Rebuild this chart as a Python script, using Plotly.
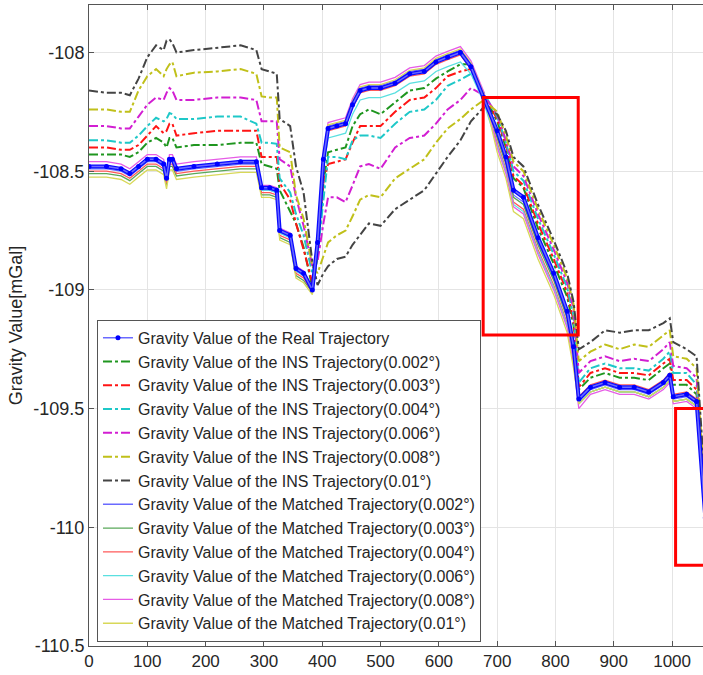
import plotly.graph_objects as go

# ---------------- data ----------------
X = [0, 30, 55, 70, 85, 100, 115, 128, 133, 138, 143, 150, 180, 220, 260,
     287, 296, 310, 322, 327, 345, 355, 368, 383, 392, 402, 410, 425, 440, 452,
     465, 480, 500, 525, 550, 575, 595, 615, 637, 655, 677, 700, 715, 728, 745,
     770, 797, 820, 831, 840, 860, 885, 910, 935, 960, 985, 996, 1002, 1025, 1042, 1057]

real = [-108.48, -108.48, -108.49, -108.51, -108.48, -108.45, -108.45, -108.47, -108.53, -108.45,
        -108.45, -108.49, -108.48, -108.47, -108.46, -108.46, -108.57, -108.57, -108.58, -108.75,
        -108.77, -108.91, -108.93, -109.00, -108.80, -108.45, -108.32, -108.31, -108.30, -108.22,
        -108.16, -108.15, -108.15, -108.13, -108.09, -108.08, -108.04, -108.02, -108.00, -108.06,
        -108.19, -108.33, -108.44, -108.58, -108.61, -108.78, -108.93, -109.09, -109.24, -109.46,
        -109.41, -109.39, -109.41, -109.41, -109.43, -109.39, -109.36, -109.45, -109.44, -109.47, -109.96]

ins_002 = [-108.43, -108.43, -108.43, -108.44, -108.42, -108.38, -108.36, -108.38, -108.40, -108.36,
           -108.36, -108.40, -108.39, -108.39, -108.38, -108.38, -108.47, -108.48, -108.49, -108.58,
           -108.67, -108.72, -108.82, -108.99, -108.86, -108.55, -108.42, -108.41, -108.40, -108.31,
           -108.26, -108.24, -108.26, -108.21, -108.16, -108.15, -108.11, -108.08, -108.05, -108.05,
           -108.18, -108.29, -108.40, -108.53, -108.57, -108.74, -108.89, -109.03, -109.15, -109.42,
           -109.37, -109.35, -109.37, -109.37, -109.38, -109.33, -109.31, -109.40, -109.40, -109.44, -109.93]

ins_003 = [-108.40, -108.40, -108.41, -108.41, -108.39, -108.35, -108.31, -108.34, -108.33, -108.30,
           -108.30, -108.35, -108.34, -108.33, -108.33, -108.33, -108.44, -108.44, -108.44, -108.55,
           -108.62, -108.72, -108.83, -108.97, -108.80, -108.55, -108.47, -108.46, -108.45, -108.38,
           -108.31, -108.31, -108.31, -108.25, -108.20, -108.19, -108.15, -108.10, -108.08, -108.07,
           -108.18, -108.28, -108.39, -108.52, -108.56, -108.72, -108.87, -109.01, -109.13, -109.41,
           -109.35, -109.33, -109.35, -109.35, -109.36, -109.31, -109.29, -109.38, -109.38, -109.42, -109.92]

ins_004 = [-108.37, -108.37, -108.38, -108.38, -108.35, -108.31, -108.275, -108.29, -108.28, -108.255,
           -108.26, -108.28, -108.28, -108.27, -108.27, -108.30, -108.38, -108.38, -108.385, -108.53,
           -108.59, -108.68, -108.77, -108.93, -108.85, -108.61, -108.44, -108.44, -108.45, -108.37,
           -108.35, -108.35, -108.36, -108.30, -108.25, -108.24, -108.20, -108.14, -108.115, -108.09,
           -108.17, -108.27, -108.38, -108.50, -108.54, -108.70, -108.85, -108.99, -109.11, -109.39,
           -109.33, -109.31, -109.33, -109.33, -109.34, -109.29, -109.26, -109.35, -109.35, -109.40, -109.90]

ins_006 = [-108.31, -108.31, -108.32, -108.32, -108.27, -108.22, -108.19, -108.20, -108.17, -108.15,
           -108.16, -108.20, -108.20, -108.19, -108.19, -108.20, -108.29, -108.29, -108.29, -108.45,
           -108.48, -108.61, -108.73, -108.90, -108.88, -108.72, -108.61, -108.61, -108.63, -108.56,
           -108.48, -108.47, -108.49, -108.40, -108.36, -108.35, -108.30, -108.24, -108.20, -108.15,
           -108.18, -108.26, -108.37, -108.48, -108.52, -108.68, -108.83, -108.97, -109.08, -109.35,
           -109.30, -109.28, -109.30, -109.29, -109.30, -109.25, -109.22, -109.32, -109.33, -109.37, -109.88]

ins_008 = [-108.24, -108.24, -108.25, -108.25, -108.16, -108.10, -108.07, -108.10, -108.07, -108.05,
           -108.04, -108.10, -108.085, -108.08, -108.07, -108.09, -108.185, -108.19, -108.19, -108.40,
           -108.42, -108.60, -108.70, -108.90, -108.93, -108.86, -108.80, -108.77, -108.75, -108.69,
           -108.62, -108.60, -108.61, -108.53, -108.49, -108.45, -108.38, -108.32, -108.28, -108.24,
           -108.20, -108.25, -108.35, -108.46, -108.50, -108.66, -108.81, -108.95, -109.06, -109.30,
           -109.26, -109.23, -109.25, -109.23, -109.24, -109.19, -109.17, -109.28, -109.29, -109.33, -109.86]

ins_010 = [-108.16, -108.17, -108.17, -108.18, -108.11, -108.02, -107.97, -107.99, -107.95, -107.945,
           -107.96, -108.00, -107.99, -107.98, -107.97, -107.99, -108.07, -108.08, -108.09, -108.28,
           -108.31, -108.48, -108.59, -108.88, -108.98, -108.93, -108.90, -108.87, -108.86, -108.81,
           -108.77, -108.72, -108.73, -108.66, -108.62, -108.58, -108.51, -108.44, -108.37, -108.29,
           -108.23, -108.26, -108.33, -108.44, -108.48, -108.64, -108.79, -108.93, -109.05, -109.25,
           -109.22, -109.17, -109.18, -109.17, -109.17, -109.14, -109.12, -109.22, -109.25, -109.28, -109.84]

mat_002 = [-108.49, -108.49, -108.50, -108.52, -108.49, -108.46, -108.46, -108.48, -108.54, -108.46,
           -108.46, -108.50, -108.49, -108.48, -108.47, -108.47, -108.58, -108.58, -108.59, -108.76,
           -108.78, -108.92, -108.94, -109.01, -108.81, -108.44, -108.31, -108.30, -108.29, -108.21,
           -108.15, -108.14, -108.14, -108.12, -108.08, -108.07, -108.03, -108.01, -107.99, -108.05,
           -108.18, -108.35, -108.46, -108.60, -108.63, -108.80, -108.95, -109.11, -109.26, -109.47,
           -109.42, -109.40, -109.42, -109.42, -109.44, -109.40, -109.37, -109.46, -109.45, -109.48, -109.97]

mat_003 = [-108.51, -108.51, -108.52, -108.54, -108.51, -108.48, -108.48, -108.50, -108.56, -108.48,
           -108.48, -108.52, -108.51, -108.50, -108.49, -108.49, -108.60, -108.60, -108.61, -108.78,
           -108.80, -108.94, -108.96, -109.01, -108.84, -108.46, -108.32, -108.31, -108.30, -108.22,
           -108.16, -108.15, -108.15, -108.13, -108.09, -108.08, -108.04, -108.02, -108.00, -108.06,
           -108.19, -108.36, -108.47, -108.61, -108.64, -108.81, -108.96, -109.12, -109.27, -109.48,
           -109.43, -109.41, -109.43, -109.43, -109.45, -109.41, -109.38, -109.47, -109.46, -109.49, -109.98]

mat_004 = [-108.50, -108.50, -108.51, -108.53, -108.50, -108.47, -108.47, -108.49, -108.55, -108.47,
           -108.47, -108.51, -108.50, -108.49, -108.48, -108.48, -108.59, -108.59, -108.60, -108.77,
           -108.79, -108.93, -108.95, -109.01, -108.82, -108.46, -108.33, -108.32, -108.31, -108.23,
           -108.17, -108.16, -108.16, -108.14, -108.10, -108.09, -108.05, -108.03, -108.01, -108.07,
           -108.20, -108.38, -108.49, -108.63, -108.66, -108.83, -108.98, -109.14, -109.29, -109.45,
           -109.40, -109.38, -109.40, -109.40, -109.42, -109.38, -109.35, -109.44, -109.43, -109.46, -109.95]

mat_006 = [-108.485, -108.485, -108.495, -108.515, -108.485, -108.455, -108.455, -108.475, -108.535, -108.455,
           -108.455, -108.495, -108.485, -108.475, -108.465, -108.465, -108.58, -108.58, -108.59, -108.76,
           -108.78, -108.92, -108.94, -109.00, -108.83, -108.49, -108.36, -108.35, -108.34, -108.26,
           -108.20, -108.19, -108.19, -108.17, -108.13, -108.12, -108.08, -108.06, -108.04, -108.09,
           -108.21, -108.39, -108.50, -108.64, -108.67, -108.84, -108.99, -109.15, -109.30, -109.48,
           -109.43, -109.41, -109.43, -109.43, -109.45, -109.41, -109.38, -109.47, -109.46, -109.49, -109.98]

mat_008 = [-108.46, -108.46, -108.47, -108.49, -108.46, -108.43, -108.43, -108.45, -108.51, -108.43,
           -108.43, -108.47, -108.46, -108.45, -108.44, -108.44, -108.56, -108.56, -108.57, -108.74,
           -108.76, -108.90, -108.92, -108.99, -108.79, -108.425, -108.295, -108.285, -108.275, -108.195,
           -108.135, -108.125, -108.125, -108.105, -108.065, -108.055, -108.015, -107.995, -107.975, -108.035,
           -108.165, -108.40, -108.51, -108.65, -108.68, -108.85, -109.00, -109.16, -109.31, -109.50,
           -109.44, -109.42, -109.44, -109.44, -109.46, -109.42, -109.39, -109.48, -109.47, -109.50, -109.99]

mat_010 = [-108.525, -108.525, -108.535, -108.555, -108.525, -108.495, -108.495, -108.515, -108.575, -108.495,
           -108.495, -108.535, -108.525, -108.515, -108.505, -108.505, -108.61, -108.61, -108.62, -108.79,
           -108.81, -108.95, -108.97, -109.02, -108.84, -108.435, -108.305, -108.295, -108.285, -108.205,
           -108.145, -108.135, -108.135, -108.115, -108.075, -108.065, -108.025, -108.005, -107.985, -108.045,
           -108.175, -108.42, -108.53, -108.67, -108.70, -108.87, -109.02, -109.18, -109.33, -109.48,
           -109.43, -109.41, -109.43, -109.43, -109.45, -109.41, -109.38, -109.47, -109.46, -109.49, -109.98]

ins_series = [("0.002°", ins_002, "#1f961f"), ("0.003°", ins_003, "#ff1414"),
              ("0.004°", ins_004, "#1ec8c8"), ("0.006°", ins_006, "#d21ed2"),
              ("0.008°", ins_008, "#c0c01a"), ("0.01°", ins_010, "#444444")]
mat_series = [("0.002°", mat_002, "#6a6aff"), ("0.003°", mat_003, "#5aa85a"),
              ("0.004°", mat_004, "#ff5a5a"), ("0.006°", mat_006, "#5ae0e0"),
              ("0.008°", mat_008, "#e65ce6"), ("0.01°", mat_010, "#d8d858")]

x_ticks = [0, 100, 200, 300, 400, 500, 600, 700, 800, 900, 1000]
y_ticks = [-110.5, -110, -109.5, -109, -108.5, -108]
y_tick_text = ["-110.5", "-110", "-109.5", "-109", "-108.5", "-108"]

# highlight boxes (x0, x1, y0, y1)
boxes = [(676, 839, -109.19, -108.19), (1006, 1090, -110.16, -109.50)]

# ---------------- figure ----------------
fig = go.Figure()

rank = 2
for lab, ys, col in ins_series:
    fig.add_trace(go.Scatter(x=X, y=ys, mode="lines",
                             name=f"Gravity Value of the INS Trajectory({lab})",
                             line=dict(color=col, width=2, dash="dashdot"),
                             legendrank=rank))
    rank += 1
for lab, ys, col in mat_series:
    fig.add_trace(go.Scatter(x=X, y=ys, mode="lines",
                             name=f"Gravity Value of the Matched Trajectory({lab})",
                             line=dict(color=col, width=1.3),
                             legendrank=rank))
    rank += 1

# thick body of the real trajectory (no legend entry)
fig.add_trace(go.Scatter(x=X, y=real, mode="lines", showlegend=False,
                         line=dict(color="#0a0aff", width=4), hoverinfo="skip"))
fig.add_trace(go.Scatter(x=X, y=real, mode="lines+markers",
                         name="Gravity Value of the Real Trajectory",
                         line=dict(color="#6a6aff", width=1.5),
                         marker=dict(color="#0000ff", size=5),
                         legendrank=1))

for (x0, x1, y0, y1) in boxes:
    fig.add_shape(type="rect", xref="x", yref="y", x0=x0, x1=x1, y0=y0, y1=y1,
                  line=dict(color="#ff0000", width=3), fillcolor="rgba(0,0,0,0)",
                  layer="above")

font_family = "Liberation Sans, Arial, sans-serif"
fig.update_layout(
    width=703, height=675,
    margin=dict(l=89, r=0, t=5, b=29),
    paper_bgcolor="white", plot_bgcolor="white",
    font=dict(family=font_family, color="#262626"),
    showlegend=True,
    legend=dict(x=0.013, y=0.509, xanchor="left", yanchor="top",
                bgcolor="white", bordercolor="#555555", borderwidth=1,
                font=dict(size=16, family=font_family, color="#262626"),
                itemwidth=30, tracegroupgap=0),
    xaxis=dict(range=[0, 1053], tickvals=x_ticks, ticks="inside", ticklen=5,
               tickcolor="#555555", showline=True, linecolor="#555555", linewidth=1,
               mirror="ticks", showgrid=True, gridcolor="#e4e4e4", gridwidth=1,
               zeroline=False, tickfont=dict(size=17)),
    yaxis=dict(range=[-110.5, -107.8], tickvals=y_ticks, ticktext=y_tick_text,
               ticks="inside", ticklen=5, tickcolor="#555555", showline=True,
               linecolor="#555555", linewidth=1, mirror=False, showgrid=True,
               gridcolor="#e4e4e4", gridwidth=1, zeroline=False,
               tickfont=dict(size=18),
               title=dict(text="Gravity Value[mGal]", font=dict(size=18), standoff=6)),
)

fig.write_html("out.html")
